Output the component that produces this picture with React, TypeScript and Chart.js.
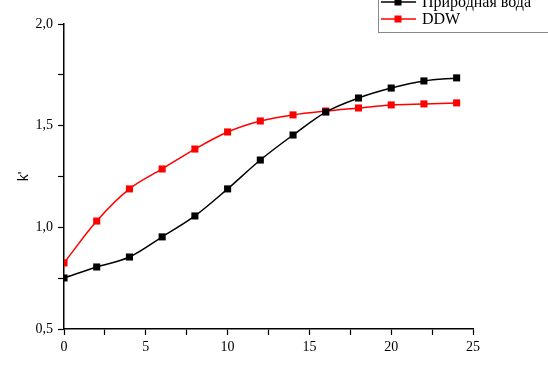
import React, { useEffect, useRef } from "react";
import { Chart, registerables } from "chart.js";

Chart.register(...registerables);

const timeH = [0, 2, 4, 6, 8, 10, 12, 14, 16, 18, 20, 22, 24];
const naturalWater = [0.751, 0.805, 0.854, 0.953, 1.056, 1.189, 1.331, 1.454, 1.567, 1.636, 1.685, 1.72, 1.735];
const ddw = [0.825, 1.031, 1.189, 1.287, 1.385, 1.469, 1.523, 1.553, 1.572, 1.587, 1.602, 1.607, 1.612];
const seriesLabels = ["Природная вода", "DDW"];
const seriesColors = ["#000000", "#ff0000"];
const yTitle = "k'";

const SERIF = "'Liberation Serif', 'Times New Roman', serif";

const legendPlugin = {
  id: "boxLegend",
  afterDraw(chart: any) {
    const ctx = chart.ctx;
    ctx.save();
    ctx.strokeStyle = "#8a8a8a";
    ctx.lineWidth = 1;
    ctx.strokeRect(378.5, -6.5, 175, 39);
    const ds = chart.data.datasets;
    const ys = [2, 19];
    ds.forEach((d: any, i: number) => {
      const y = ys[i];
      ctx.strokeStyle = d.borderColor;
      ctx.lineWidth = 1.5;
      ctx.beginPath();
      ctx.moveTo(381, y);
      ctx.lineTo(416, y);
      ctx.stroke();
      ctx.fillStyle = d.backgroundColor;
      ctx.fillRect(394.5, y - 3.5, 7, 7);
      ctx.fillStyle = "#000";
      ctx.font = `16px ${SERIF}`;
      ctx.textBaseline = "middle";
      ctx.textAlign = "left";
      ctx.fillText(d.label, 422, y + 1);
    });
    ctx.restore();
  },
};

export default function App() {
  const ref = useRef<HTMLCanvasElement>(null);
  useEffect(() => {
    if (!ref.current) return;
    const mk = (vals: number[]) => timeH.map((x, i) => ({ x, y: vals[i] }));
    const chart = new Chart(ref.current, {
      type: "line",
      data: {
        datasets: [naturalWater, ddw].map((vals, i) => ({
          label: seriesLabels[i],
          data: mk(vals),
          borderColor: seriesColors[i],
          backgroundColor: seriesColors[i],
          borderWidth: 1.5,
          pointStyle: "rect",
          pointRadius: 5,
          pointBorderWidth: 0,
          cubicInterpolationMode: "monotone",
          fill: false,
        })),
      },
      options: {
        animation: false,
        responsive: false,
        maintainAspectRatio: false,
        layout: { padding: { top: 24, right: 75, left: 0, bottom: 0 } },
        plugins: { legend: { display: false }, tooltip: { enabled: false } },
        scales: {
          x: {
            type: "linear",
            min: 0,
            max: 25,
            afterFit: (s: any) => {
              s.height = 36;
            },
            border: { display: true, color: "#000", width: 1.5 },
            grid: { drawOnChartArea: false, drawTicks: true, tickLength: 6, tickColor: "#000", tickWidth: 1.2 },
            ticks: {
              stepSize: 2.5,
              autoSkip: false,
              maxRotation: 0,
              padding: 4,
              color: "#000",
              font: { family: SERIF, size: 14 },
              callback: (v: any) => (Math.abs(v % 5) < 1e-6 ? String(v) : ""),
            },
          },
          y: {
            type: "linear",
            min: 0.5,
            max: 2.0,
            afterFit: (s: any) => {
              s.width = 64;
            },
            border: { display: true, color: "#000", width: 1.5 },
            grid: { drawOnChartArea: false, drawTicks: true, tickLength: 6, tickColor: "#000", tickWidth: 1.2 },
            title: {
              display: true,
              text: yTitle,
              color: "#000",
              font: { family: "'Liberation Sans', Arial, sans-serif", size: 14 },
              padding: { top: 16, bottom: 0 },
            },
            ticks: {
              stepSize: 0.25,
              autoSkip: false,
              padding: 5,
              color: "#000",
              font: { family: SERIF, size: 14 },
              callback: (v: any) => (Math.abs((v * 2) % 1) < 1e-6 ? Number(v).toFixed(1).replace(".", ",") : ""),
            },
          },
        },
      },
      plugins: [legendPlugin],
    } as any);
    return () => chart.destroy();
  }, []);
  return (
    <div style={{ position: "fixed", left: 0, top: 0, width: 548, height: 365, background: "#fff" }}>
      <canvas ref={ref} width={548} height={365} style={{ width: 548, height: 365 }} />
    </div>
  );
}
